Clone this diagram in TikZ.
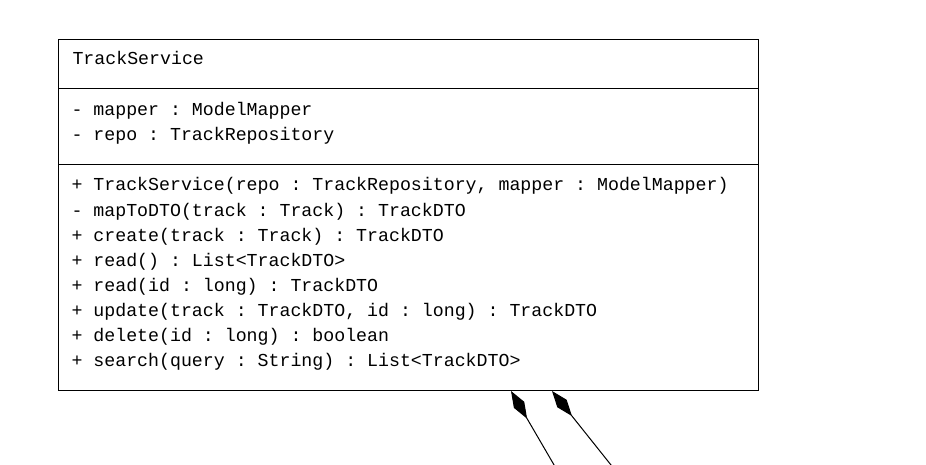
\documentclass[tikz,border=0pt]{standalone}
\usepackage{fontspec}
\setmonofont{Liberation Mono}
\usetikzlibrary{arrows.meta}
\begin{document}
\begin{tikzpicture}[x=1pt,y=-1pt,line width=1pt,
    classbox/.style={draw,rectangle,minimum width=700pt,minimum height=351pt,inner sep=0pt,anchor=north west},
    member/.style={anchor=base west,inner sep=0pt,font=\fontsize{18.25}{20}\ttfamily},
    aggr/.style={-{Diamond[length=32pt,width=12pt,fill=black]}}]
    \useasboundingbox (0,0) rectangle (926,465);
    %\draw[gray!30,step=50] (0,0) grid (926,465);
    \node[classbox] (trackservice) at (58,39) {};
    \draw (trackservice.west |- 0,89) -- (trackservice.east |- 0,89);
    \draw (trackservice.west |- 0,165) -- (trackservice.east |- 0,165);
    \node[member] (name) at (72,65) {TrackService};
    % attributes
    \node[member] (attr1) at (71,116) {- mapper : ModelMapper};
    \node[member] (attr2) at (71,141) {- repo : TrackRepository};
    % methods
    \node[member] (op1) at (71,191) {+ TrackService(repo : TrackRepository, mapper : ModelMapper)};
    \node[member] (op2) at (71,216) {- mapToDTO(track : Track) : TrackDTO};
    \node[member] (op3) at (71,241) {+ create(track : Track) : TrackDTO};
    \node[member] (op4) at (71,266) {+ read() : List<TrackDTO>};
    \node[member] (op5) at (71,291) {+ read(id : long) : TrackDTO};
    \node[member] (op6) at (71,316) {+ update(track : TrackDTO, id : long) : TrackDTO};
    \node[member] (op7) at (71,341) {+ delete(id : long) : boolean};
    \node[member] (op8) at (71,366) {+ search(query : String) : List<TrackDTO>};
    % aggregations from below
    \coordinate (ext1) at (557,470);
    \coordinate (ext2) at (615,470);
    \draw[aggr] (ext1) -- (trackservice.south -| 511,0);
    \draw[aggr] (ext2) -- (trackservice.south -| 552,0);
\end{tikzpicture}
\end{document}
